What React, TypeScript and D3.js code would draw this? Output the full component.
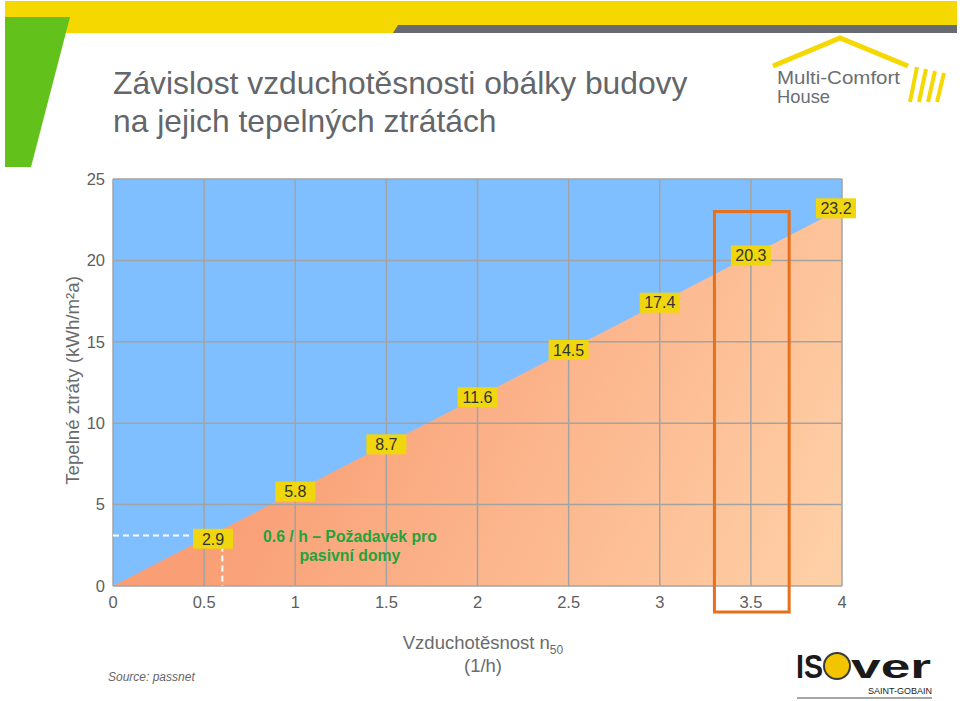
import React from 'react';
import * as d3 from 'd3';

// air tightness n50 (1/h) and heat loss (kWh/m2a)
const n50 = [0, 0.5, 1, 1.5, 2, 2.5, 3, 3.5, 4];
const heatLoss = [0, 2.9, 5.8, 8.7, 11.6, 14.5, 17.4, 20.3, 23.2];
const xTicks = [0, 0.5, 1, 1.5, 2, 2.5, 3, 3.5, 4];
const yTicks = [0, 5, 10, 15, 20, 25];

// passive house requirement marker
const passiveN50 = 0.6;
const passiveLoss = 3.1;
// highlighted band around n50 = 3.5
const highlightFrom = 3.3;
const highlightTo = 3.71;
const highlightTop = 23;

const W = 960;
const H = 701;
const FONT = 'Arial, "Liberation Sans", sans-serif';

const App = () => {
  const x = d3.scaleLinear().domain([0, 4]).range([113, 842]);
  const y = d3.scaleLinear().domain([0, 25]).range([586, 179]);

  const pts = n50.map((v, i) => ({ n: v, q: heatLoss[i] }));
  const area = d3.area<{ n: number; q: number }>()
    .x(d => x(d.n))
    .y0(y(0))
    .y1(d => y(d.q));

  const labels = pts.filter(d => d.q > 0);

  return (
    <svg width={W} height={H} style={{ position: 'absolute', left: 0, top: 0 }} fontFamily={FONT}>
      <defs>
        <linearGradient id="lossFill" gradientUnits="userSpaceOnUse" x1={300} y1={330} x2={842} y2={586}>
          <stop offset="0" stopColor="#F99E75" />
          <stop offset="1" stopColor="#FFD1A8" />
        </linearGradient>
      </defs>

      {/* header decoration */}
      <rect x={5} y={1} width={952} height={32} fill="#F5D800" />
      <path d="M393,33 L398,25 L957,25 L957,33 Z" fill="#676A70" />
      <path d="M5,17 L70,17 L31,167 L5,167 Z" fill="#62C11A" />

      {/* title */}
      <g fill="#63666A" fontSize={31.8}>
        <text x={113} y={94}>Závislost vzduchotěsnosti obálky budovy</text>
        <text x={113} y={132}>na jejich tepelných ztrátách</text>
      </g>

      {/* Multi-Comfort House logo */}
      <g>
        <path d="M773,66 L840,38 L908,66" fill="none" stroke="#F5D800" strokeWidth={5} />
        {[0, 1, 2, 3].map(i => (
          <line key={i} x1={917 + i * 9} y1={67 + i * 2} x2={910 + i * 9} y2={102} stroke="#F5D800" strokeWidth={4} />
        ))}
        <text x={777} y={84} fontSize={19} fontWeight={500} fill="#6B6E73" textLength={123} lengthAdjust="spacingAndGlyphs">Multi-Comfort</text>
        <text x={777} y={103} fontSize={19} fontWeight={500} fill="#6B6E73" textLength={53} lengthAdjust="spacingAndGlyphs">House</text>
      </g>

      {/* plot background and loss area */}
      <rect x={x(0)} y={y(25)} width={x(4) - x(0)} height={y(0) - y(25)} fill="#80BFFF" />
      <path d={area(pts) || ''} fill="url(#lossFill)" />

      {/* grid */}
      <g stroke="#A3A3A3" strokeWidth={1.5}>
        {xTicks.map(t => (
          <line key={'gx' + t} x1={x(t)} x2={x(t)} y1={y(0)} y2={y(25)} />
        ))}
        {yTicks.map(t => (
          <line key={'gy' + t} x1={x(0)} x2={x(4)} y1={y(t)} y2={y(t)} />
        ))}
      </g>

      {/* axis tick labels */}
      <g fill="#5E5E5E" fontSize={16.5}>
        {yTicks.map(t => (
          <text key={'ty' + t} x={x(0) - 8} y={y(t)} dy="0.35em" textAnchor="end">{t}</text>
        ))}
        {xTicks.map(t => (
          <text key={'tx' + t} x={x(t)} y={y(0) + 22} textAnchor="middle">{t}</text>
        ))}
      </g>

      {/* passive house marker */}
      <g stroke="#FFFFFF" strokeWidth={2} strokeDasharray="6,4">
        <line x1={x(0)} x2={x(0.45)} y1={y(passiveLoss)} y2={y(passiveLoss)} />
        <line x1={x(passiveN50)} x2={x(passiveN50)} y1={y(passiveLoss) + 10} y2={y(0)} />
      </g>
      <g fill="#24A33C" fontSize={15.8} fontWeight="bold" textAnchor="middle">
        <text x={x(1.3)} y={y(passiveLoss) + 6}>0.6 / h – Požadavek pro</text>
        <text x={x(1.3)} y={y(passiveLoss) + 25}>pasivní domy</text>
      </g>

      {/* value labels */}
      {labels.map(d => {
        const cx = Math.min(Math.max(x(d.n), x(0) + 100), x(4) - 6);
        const cy = y(d.q);
        const txt = d.q.toFixed(1);
        return (
          <g key={'lb' + d.n}>
            <rect x={cx - 20} y={cy - 10} width={40} height={20} fill="#F0D60F" />
            <text x={cx} y={cy} dy="0.36em" textAnchor="middle" fontSize={16} fill="#333">{txt}</text>
          </g>
        );
      })}

      {/* highlight box */}
      <rect x={x(highlightFrom)} y={y(highlightTop)} width={x(highlightTo) - x(highlightFrom)}
        height={y(0) + 26 - y(highlightTop)} fill="none" stroke="#E8701C" strokeWidth={3} />

      {/* axis titles */}
      <text transform={`translate(79,${(y(0) + y(25)) / 2 - 2}) rotate(-90)`} textAnchor="middle"
        fontSize={18.7} fill="#6B6B6B">Tepelné ztráty (kWh/m²a)</text>
      <g fill="#6B6B6B" fontSize={18.5} textAnchor="middle">
        <text x={483} y={649}>Vzduchotěsnost n<tspan fontSize={12} dy={5}>50</tspan></text>
        <text x={483} y={672}>(1/h)</text>
      </g>

      <text x={108} y={681} fontSize={12} fontStyle="italic" fill="#666">Source: passnet</text>

      {/* ISOVER logo */}
      <g>
        <text x={796} y={678} fontSize={34} fontWeight="bold" fill="#1A1A1A" textLength={27} lengthAdjust="spacingAndGlyphs">IS</text>
        <circle cx={837} cy={666} r={13} fill="#F2C500" stroke="#3A3A3A" strokeWidth={2} />
        <text x={851} y={678} fontSize={34} fontWeight="bold" fill="#1A1A1A" textLength={80} lengthAdjust="spacingAndGlyphs">ver</text>
        <text x={932} y={694} fontSize={9} fill="#1A1A1A" textAnchor="end">SAINT-GOBAIN</text>
        <line x1={797} x2={932} y1={698} y2={698} stroke="#888" strokeWidth={1.5} />
      </g>
    </svg>
  );
};

export default App;
